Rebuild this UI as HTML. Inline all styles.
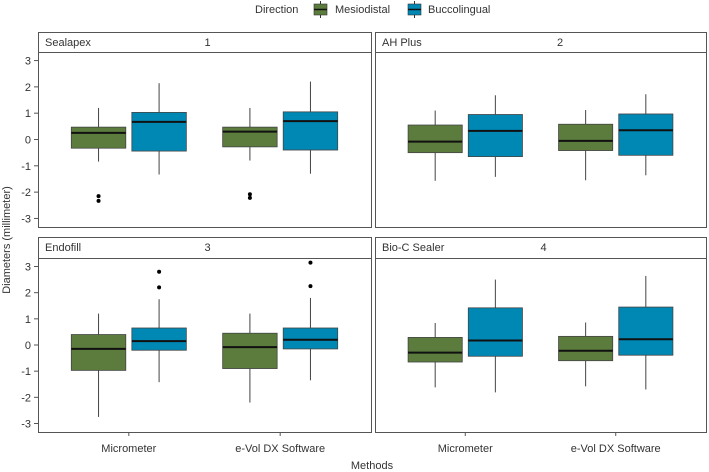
<!DOCTYPE html>
<html><head><meta charset="utf-8"><style>
body{margin:0;background:#fff}
svg{display:block;font-family:"Liberation Sans",sans-serif}
</style></head><body>
<svg id="c" width="709" height="472">
<g>
<text x="255" y="13" font-size="11" fill="#333">Direction</text>
<line x1="320.5" y1="1" x2="320.5" y2="18" stroke="#333"/>
<rect x="314" y="4" width="13" height="11" fill="#5b7c3c" stroke="#333" stroke-width="0.6"/>
<line x1="314" y1="9.5" x2="327" y2="9.5" stroke="#111" stroke-width="1.5"/>
<text x="335" y="13" font-size="11" fill="#333">Mesiodistal</text>
<line x1="414.5" y1="1" x2="414.5" y2="18" stroke="#333"/>
<rect x="408" y="4" width="13" height="11" fill="#0088b5" stroke="#333" stroke-width="0.6"/>
<line x1="408" y1="9.5" x2="421" y2="9.5" stroke="#111" stroke-width="1.5"/>
<text x="428" y="13" font-size="11" fill="#333">Buccolingual</text>
</g>
<text transform="translate(10,240) rotate(-90)" text-anchor="middle" font-size="11" fill="#333">Diameters (millimeter)</text>
<text x="372" y="469" text-anchor="middle" font-size="11" fill="#333">Methods</text>
</svg>
<script>
const panelNames=["Sealapex","AH Plus","Endofill","Bio-C Sealer"];
const panelNums=["1","2","3","4"];
const methods=["Micrometer","e-Vol DX Software"];
const directions=["Mesiodistal","Buccolingual"];
const yTicks=[3,2,1,0,-1,-2,-3];
// per panel, per method: [green, blue] each [lo,q1,med,q3,hi]
const p1=[[[-0.84,-0.33,0.25,0.47,1.2],[-1.33,-0.44,0.67,1.03,2.14]],[[-0.8,-0.28,0.3,0.47,1.2],[-1.3,-0.4,0.7,1.05,2.2]]];
const p2=[[[-1.57,-0.5,-0.08,0.55,1.1],[-1.42,-0.65,0.33,0.95,1.68]],[[-1.55,-0.42,-0.05,0.58,1.12],[-1.36,-0.6,0.35,0.97,1.72]]];
const p3=[[[-2.75,-0.97,-0.15,0.4,1.2],[-1.42,-0.2,0.15,0.65,1.75]],[[-2.2,-0.9,-0.08,0.45,1.2],[-1.35,-0.15,0.2,0.65,1.8]]];
const p4=[[[-1.62,-0.65,-0.29,0.29,0.84],[-1.81,-0.43,0.17,1.42,2.5]],[[-1.58,-0.6,-0.22,0.33,0.86],[-1.7,-0.39,0.22,1.45,2.64]]];
const outliers1=[[[-2.15,-2.33],[]],[[-2.08,-2.22],[]]];
const outliers2=[[[],[]],[[],[]]];
const outliers3=[[[],[2.8,2.2]],[[],[3.15,2.25]]];
const outliers4=[[[],[]],[[],[]]];
const stats=[p1,p2,p3,p4];
const outs=[outliers1,outliers2,outliers3,outliers4];
const colors=["#5b7c3c","#0088b5"];
const numOffsets=[0.5,0.55,0.5,0.5];
const NS="http://www.w3.org/2000/svg";
const svg=document.getElementById('c');
function mk(t,a,p){const e=document.createElementNS(NS,t);for(const k in a)e.setAttribute(k,a[k]);(p||svg).appendChild(e);return e;}
const cols=[[38,371],[375,706]];
const rows=[{s:32,t:52,b:227},{s:237,t:258,b:432}];
for(let i=0;i<4;i++){
 const c=cols[i%2],r=rows[Math.floor(i/2)];
 const x0=c[0],x1=c[1],W=x1-x0;
 const H=r.b-r.t;
 const y=v=>r.t+H/2-v*(H/6.65);
 const x=v=>x0+(v-0.4)/2.2*W;
 const g=mk('g',{});
 
 
 const st=mk('rect',{x:x0+.5,y:r.s+.5,width:W,height:r.t-r.s,fill:'#fff',stroke:'#555'},g);
 
 
 const t1=mk('text',{x:x0+7,y:r.s+14,'font-size':11,fill:'#333'},g);t1.textContent=panelNames[i];
 
 
 const t2=mk('text',{x:x0+W*numOffsets[i],y:r.s+14,'font-size':11,fill:'#333'},g);t2.textContent=panelNums[i];
 
 
 const pr=mk('rect',{x:x0+.5,y:r.t+.5,width:W,height:H,fill:'#fff',stroke:'#555'},g);
 
 
 if(i%2==0){yTicks.forEach(v=>{
  const l=mk('line',{x1:x0-4,x2:x0,y1:y(v),y2:y(v),stroke:'#555'},g);
  
  
  const tt=mk('text',{x:x0-7,y:y(v)+4,'text-anchor':'end','font-size':11,fill:'#333'},g);tt.textContent=v;
  
  
 });}
 if(i>=2){methods.forEach((m,k)=>{
  const l=mk('line',{x1:x(k+1),x2:x(k+1),y1:r.b,y2:r.b+4,stroke:'#555'},g);
  
  
  const tt=mk('text',{x:x(k+1),y:r.b+20,'text-anchor':'middle','font-size':11,fill:'#333'},g);tt.textContent=m;
  
  
 });}
 for(let k=0;k<2;k++)for(let d=0;d<2;d++){
  const s=stats[i][k][d];const cx=x(k+1+(d==0?-0.2:0.2));const hw=0.18/2.2*W;
  const wl=mk('line',{x1:cx,x2:cx,y1:y(s[4]),y2:y(s[0]),stroke:'#444'},g);
  
  
  const b=mk('rect',{x:cx-hw,y:y(s[3]),width:2*hw,height:y(s[1])-y(s[3]),fill:colors[d],stroke:'#444','stroke-width':0.8},g);
  
  
  const md=mk('line',{x1:cx-hw,x2:cx+hw,y1:y(s[2]),y2:y(s[2]),stroke:'#111','stroke-width':2},g);
  
  
  outs[i][k][d].forEach(v=>{
   const o=mk('circle',{cx:cx,cy:y(v),r:2,fill:'#000'},g);
   
   
  });
 }
}
</script>
</body></html>
